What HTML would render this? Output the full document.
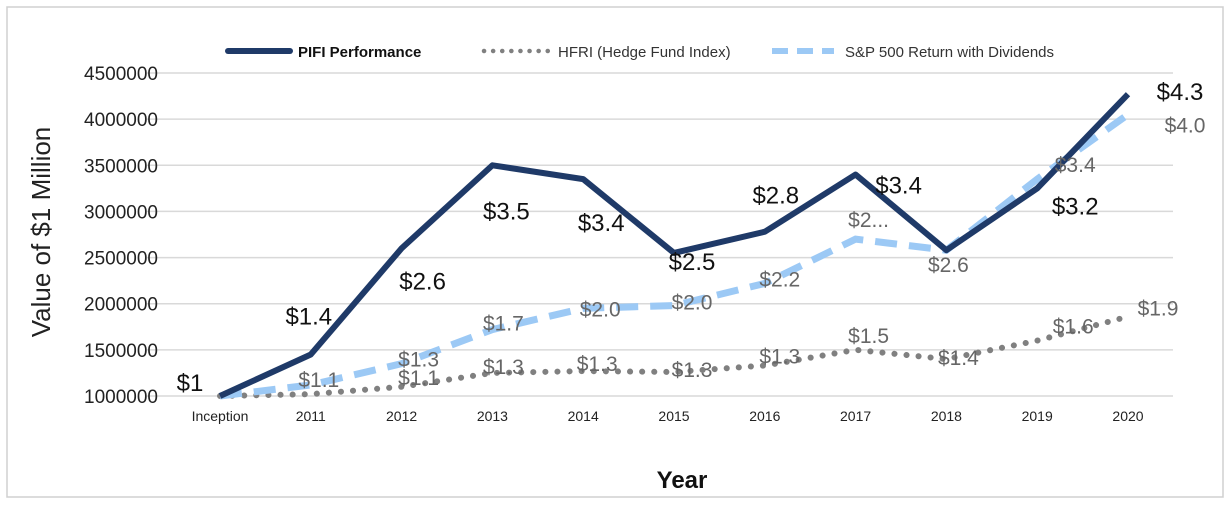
<!DOCTYPE html>
<html><head><meta charset="utf-8"><style>
body{margin:0;background:#fff;font-family:"Liberation Sans",sans-serif}
svg text{font-family:"Liberation Sans",sans-serif}
</style></head><body>
<svg width="1230" height="505" xmlns="http://www.w3.org/2000/svg">
<rect x="7" y="7" width="1216" height="490" fill="#fff" stroke="#d0d0d0" stroke-width="1.5"/>
<g id="grid"></g><g id="series"></g><g id="labels"></g>
<text x="50" y="232" transform="rotate(-90 50 232)" text-anchor="middle" font-size="26" fill="#222">Value of $1 Million</text>
<text x="682" y="488" text-anchor="middle" font-size="24" font-weight="bold" fill="#111">Year</text>
<g>
<line x1="228" y1="51" x2="290" y2="51" stroke="#1f3a68" stroke-width="6" stroke-linecap="round"/>
<text x="298" y="57" font-size="15" font-weight="bold" fill="#111">PIFI Performance</text>
<line x1="484" y1="51" x2="548" y2="51" stroke="#808080" stroke-width="4.5" stroke-dasharray="0.1 9" stroke-linecap="round"/>
<text x="558" y="57" font-size="15" fill="#333">HFRI (Hedge Fund Index)</text>
<line x1="772" y1="51" x2="834" y2="51" stroke="#9cc9f5" stroke-width="6" stroke-dasharray="16 9"/>
<text x="845" y="57" font-size="15" fill="#333">S&amp;P 500 Return with Dividends</text>
</g>
</svg>
<script>
const categories=["Inception","2011","2012","2013","2014","2015","2016","2017","2018","2019","2020"];
const yTicks=[1000000,1500000,2000000,2500000,3000000,3500000,4000000,4500000];
const pifi=[1000000,1450000,2600000,3500000,3350000,2550000,2780000,3400000,2580000,3250000,4270000];
const hfri=[1000000,1020000,1100000,1250000,1270000,1260000,1330000,1500000,1400000,1600000,1860000];
const sp=[1000000,1120000,1350000,1720000,1950000,1980000,2220000,2700000,2580000,3350000,4050000];
const pifiLabels=["$1","$1.4","$2.6","$3.5","$3.4","$2.5","$2.8","$3.4","","$3.2","$4.3"];
const hfriLabels=["","","$1.1","$1.3","$1.3","$1.3","$1.3","$1.5","$1.4","$1.6","$1.9"];
const spLabels=["","$1.1","$1.3","$1.7","$2.0","$2.0","$2.2","$2...","$2.6","$3.4","$4.0"];
const pifiOff=[[-30,-13],[-2,-38],[21,33],[14,46],[18,44],[18,9],[11,-36],[43,11],[0,0],[38,18],[52,-2]];
const hfriOff=[[0,0],[0,0],[17,-10],[11,-7],[14,-8],[18,-3],[15,-10],[13,-15],[12,-2],[36,-15],[30,-9]];
const spOff=[[0,0],[8,-6],[17,-5],[11,-7],[17,0],[18,-4],[15,-5],[13,-20],[2,14],[38,-15],[57,10]];
const NS="http://www.w3.org/2000/svg";
const x=i=>220+i*90.8;
const y=v=>396-(v-1000000)/3500000*323;
function mk(t,a,p){const e=document.createElementNS(NS,t);for(const k in a)e.setAttribute(k,a[k]);p.appendChild(e);return e;}
const grid=document.getElementById('grid');
yTicks.forEach(v=>{
 const l=mk('line',{x1:147,x2:1173,y1:y(v),y2:y(v),stroke:'#d9d9d9','stroke-width':1.5},grid);
 
 
 const t=mk('text',{x:158,y:y(v)+7,'text-anchor':'end','font-size':19,fill:'#222'},grid);t.textContent=v;
 
 
});
categories.forEach((c,i)=>{
 const t=mk('text',{x:x(i),y:421,'text-anchor':'middle','font-size':14,fill:'#222'},grid);t.textContent=c;
 
 
});
const s=document.getElementById('series');
function line(d,st,name){
 const p=mk('polyline',Object.assign({points:d.map((v,i)=>x(i)+','+y(v)).join(' '),fill:'none'},st),s);
 
 
}
line(hfri,{stroke:'#808080','stroke-width':6,'stroke-dasharray':'0.1 12','stroke-linecap':'round'},'hfri-line');
line(sp,{stroke:'#9cc9f5','stroke-width':7,'stroke-dasharray':'22 12'},'sp500-line');
line(pifi,{stroke:'#1f3a68','stroke-width':6,'stroke-linejoin':'round'},'pifi-line');
const L=document.getElementById('labels');
function labs(d,lb,off,col,fs,name){
 d.forEach((v,i)=>{if(!lb[i])return;
  const t=mk('text',{x:x(i)+off[i][0],y:y(v)+off[i][1]+8,'text-anchor':'middle','font-size':fs,fill:col},L);t.textContent=lb[i];
  
  
 });
}
labs(hfri,hfriLabels,hfriOff,'#666',21,'hfri-data-label');
labs(sp,spLabels,spOff,'#666',21,'sp500-data-label');
labs(pifi,pifiLabels,pifiOff,'#111',24,'pifi-data-label');
</script>
</body></html>
